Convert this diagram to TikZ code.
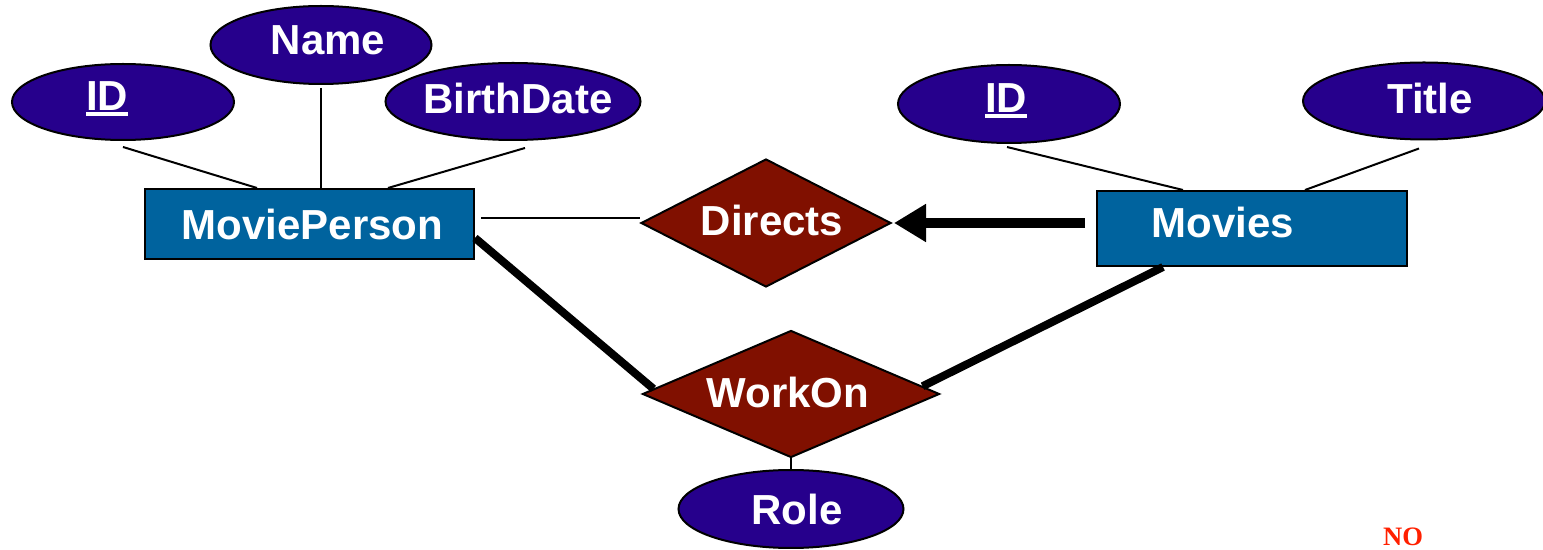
\documentclass[tikz,border=0pt]{standalone}
\usepackage{fontspec}
\setmainfont{Liberation Sans}
\newfontfamily\notefont{Liberation Serif}
\usetikzlibrary{shapes.geometric,arrows.meta,calc}

\definecolor{attrfill}{RGB}{38,0,140}
\definecolor{entfill}{RGB}{0,99,158}
\definecolor{relfill}{RGB}{128,16,0}
\definecolor{notered}{RGB}{255,32,0}

% key attribute: text with a heavy underline
\newcommand{\keyattr}[1]{\setbox0\hbox{#1}\rlap{\rule[-3pt]{\wd0}{2pt}}\box0}

\tikzset{
  x=0.5pt, y=-0.5pt,
  attr/.style={ellipse, draw=black, line width=1pt, fill=attrfill, inner sep=0pt},
  ent/.style={rectangle, draw=black, line width=1pt, fill=entfill, inner sep=0pt,
              text=white, font=\bfseries\fontsize{21}{25}\selectfont},
  rel/.style={diamond, aspect=2, draw=black, line width=1pt, fill=relfill, inner sep=0pt},
  lbl/.style={text=white, font=\bfseries\fontsize{21}{25}\selectfont, inner sep=0pt},
  link/.style={line width=1pt},
  total/.style={line width=4pt},
  keyarrow/.style={line width=5pt, -{Triangle[length=16pt,width=18pt]}},
}

\begin{document}
\begin{tikzpicture}
\useasboundingbox (0,0) rectangle (1543,550);

% entity sets
\node[ent, minimum width=164.5pt, minimum height=35pt,
      label={[lbl,shift={(3,0)}]center:MoviePerson}] (mp) at (309.5,224) {};
\node[ent, minimum width=155pt, minimum height=37.5pt,
      label={[lbl,shift={(-29,-6)}]center:Movies}] (mv) at (1252,228.5) {};

% relationships
\node[rel, minimum width=125pt, minimum height=64pt,
      label={[lbl,shift={(6,-3)}]center:Directs}] (dir) at (766,223) {};
\node[rel, minimum width=148.5pt, minimum height=63.5pt,
      label={[lbl,shift={(-3,-2)}]center:WorkOn}] (wo) at (791,394) {};

% attributes of MoviePerson
\node[attr, minimum width=111pt, minimum height=38pt,
      label={[lbl,shift={(-16,-3)}]center:\keyattr{ID}}] (idL) at (123,102) {};
\node[attr, minimum width=110.5pt, minimum height=39pt,
      label={[lbl,shift={(7,-5)}]center:Name}] (name) at (321,45) {};
\node[attr, minimum width=127.5pt, minimum height=38.5pt,
      label={[lbl,shift={(5,-3)}]center:BirthDate}] (bd) at (513,101.5) {};

% attributes of Movies
\node[attr, minimum width=111pt, minimum height=39pt,
      label={[lbl,shift={(-3,-3)}]center:\keyattr{ID}}] (idM) at (1009,104) {};
\node[attr, minimum width=121pt, minimum height=38.5pt,
      label={[lbl,shift={(6,-3)}]center:Title}] (title) at (1424,101) {};

% attribute of WorkOn
\node[attr, minimum width=112.5pt, minimum height=39pt,
      label={[lbl,shift={(6,0)}]center:Role}] (role) at (791,509) {};

% attribute links
\draw[link] ([yshift=-3pt]idL.south) -- ([xshift=-26.25pt]mp.north);
\draw[link] ([yshift=-1.5pt]name.south) -- (name.south |- mp.north);
\draw[link] ([shift={(6pt,-3.5pt)}]bd.south) -- ([xshift=39.25pt]mp.north);
\draw[link] ([shift={(-1pt,-1.5pt)}]idM.south) -- ([xshift=-34.5pt]mv.north);
\draw[link] ([shift={(-2.5pt,-4pt)}]title.south) -- ([xshift=26.5pt]mv.north);
\draw[link] (wo.south) -- (role.north);

% relationship links
\draw[link] ([shift={(3pt,3pt)}]mp.east) coordinate (mpe) -- (mpe -| dir.west);
\path ([xshift=-5.5pt]mv.west) coordinate (mvw);
\draw[keyarrow] (mvw |- dir.east) -- ([xshift=1pt]dir.east);
\draw[total] ([yshift=-7pt]mp.east) -- ($(wo.west)!0.08!(wo.north)$);
\draw[total] ([xshift=-44.5pt]mv.south) -- ($(wo.east)!0.12!(wo.north)$);

% note
\node[text=notered, font=\notefont\bfseries\fontsize{13.3}{16}\selectfont, inner sep=0pt]
  (no) at (1403,537) {NO};
\end{tikzpicture}
\end{document}
